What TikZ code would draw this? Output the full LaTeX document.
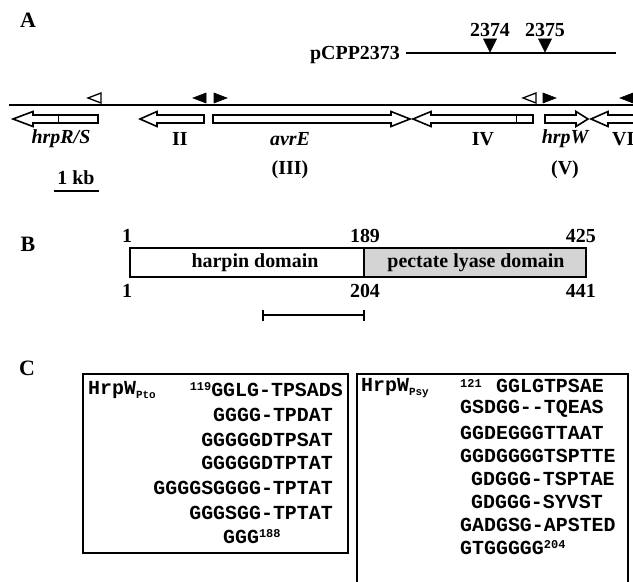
\documentclass[tikz,border=0pt]{standalone}
\usepackage{fontspec}
\setmainfont{Liberation Serif}
\setmonofont{Liberation Mono}
\usepackage{tikz}
\usetikzlibrary{arrows.meta}

% gene arrow: y, tail, head base, tip
\newcommand{\genearrow}[4]{%
  \draw[gene] (#2,#1-4) -- (#3,#1-4) -- (#3,#1-7.5) -- (#4,#1)
    -- (#3,#1+7.5) -- (#3,#1+4) -- (#2,#1+4) -- cycle;}
% small marker triangles: tip x, y, style
\newcommand{\triL}[3]{\draw[#3] (#1,#2) -- (#1+13,#2-5) -- (#1+13,#2+5) -- cycle;}
\newcommand{\triR}[3]{\draw[#3] (#1,#2) -- (#1-13,#2-5) -- (#1-13,#2+5) -- cycle;}
% superscript / subscript pieces
\newcommand{\supnum}[1]{{\fontsize{12}{12}\selectfont\raisebox{6bp}{#1}}}
\newcommand{\subtag}[1]{{\fontsize{11}{11}\selectfont\raisebox{-4bp}{#1}}}

\begin{document}
\begin{tikzpicture}[x=1bp, y=-1bp,
    lbl/.style={font=\fontsize{20}{22}\selectfont\bfseries, inner sep=0pt},
    genelbl/.style={font=\fontsize{20}{22}\selectfont\bfseries\itshape, inner sep=0pt},
    panel/.style={font=\fontsize{22}{22}\selectfont\bfseries, inner sep=0pt},
    seq/.style={font=\fontsize{20}{22}\selectfont\ttfamily\bfseries, inner sep=0pt},
    gene/.style={draw, line width=1.6bp, fill=white},
    opentri/.style={draw, line width=1.3bp, fill=white},
    filltri/.style={draw, line width=0.6bp, fill=black},
    box/.style={draw, line width=2.4bp}]

    \useasboundingbox (0,0) rectangle (633,582);

    % ---------- Panel A ----------
    \node[panel] (pA) at (28,20) {A};

    % Cosmid pCPP2373 with insertion sites
    \node[lbl, anchor=east] (pcpp) at (400,55) {pCPP2373};
    \coordinate (pstart) at (406,53);
    \coordinate (pend) at (616,53);
    \draw[line width=2.2bp] (pstart) -- (pend);
    \node[lbl] (s2374) at (490,30) {2374};
    \node[lbl] (s2375) at (545,30) {2375};
    \draw[filltri] (483.5,39) -- (496.5,39) -- (490,52) -- cycle;
    \draw[filltri] (538.5,39) -- (551.5,39) -- (545,52) -- cycle;

    % Main chromosome line
    \coordinate (mstart) at (9,105);
    \coordinate (mend) at (640,105);
    \draw[line width=2.6bp] (mstart) -- (mend);

    % Promoter markers above the line
    \triL{88}{98}{opentri}
    \triL{193}{98}{filltri}
    \triR{227}{98}{filltri}
    \triL{523}{98}{opentri}
    \triR{556}{98}{filltri}
    \triL{620}{98}{filltri}

    % Gene arrows
    \genearrow{119}{98}{33}{13}
    \draw[line width=1bp] (58,115) -- (58,123);
    \genearrow{119}{204}{157}{140}
    \genearrow{119}{213}{391}{410}
    \genearrow{119}{533}{431}{413}
    \draw[line width=1bp] (516,115) -- (516,123);
    \genearrow{119}{545}{576}{588}
    \genearrow{119}{650}{608}{591}

    % Gene labels
    \node[genelbl] (hrprs) at (61,139) {hrpR/S};
    \node[lbl] (gII) at (180,139) {II};
    \node[genelbl] (avre) at (290,139) {avrE};
    \node[lbl] (gIII) at (290,170) {(III)};
    \node[lbl] (gIV) at (483,139) {IV};
    \node[genelbl] (hrpw) at (565,139) {hrpW};
    \node[lbl] (gV) at (565,170) {(V)};
    \node[lbl, anchor=west] (gVI) at (612,139) {VI};

    % Scale bar
    \node[lbl] (kb) at (76,178) {1 kb};
    \coordinate (kbl) at (54,191);
    \coordinate (kbr) at (99,191);
    \draw[line width=2.2bp] (kbl) -- (kbr);

    % ---------- Panel B ----------
    \node[panel] (pB) at (28,244) {B};

    % Protein domains
    \draw[box, fill=black!17] (364,248) rectangle (586,277);
    \draw[box] (130,248) rectangle (364,277);
    \node[lbl] (harpin) at (255,263) {harpin domain};
    \node[lbl] (pectate) at (476,263) {pectate lyase domain};

    % Residue numbers
    \node[lbl] (t1) at (127,236) {1};
    \node[lbl] (t189) at (365,236) {189};
    \node[lbl, anchor=east] (t425) at (596,236) {425};
    \node[lbl] (b1) at (127,291) {1};
    \node[lbl] (b204) at (365,291) {204};
    \node[lbl, anchor=east] (b441) at (596,291) {441};

    % Repeat region bar
    \coordinate (rl) at (262,315);
    \coordinate (rr) at (365,315);
    \draw[line width=1.8bp, {Bar[width=11bp]}-{Bar[width=11bp]}] (rl) -- (rr);

    % ---------- Panel C ----------
    \node[panel] (pC) at (27,368) {C};

    % HrpW Pto repeats
    \draw[box] (83,374) rectangle (348,553);
    \node[seq, anchor=west] (pto) at (88,390) {HrpW\subtag{Pto}};
    \node[seq, anchor=east] (pto1) at (343,390) {\supnum{119}GGLG-TPSADS};
    \node[seq, anchor=east] (pto2) at (333,415) {GGGG-TPDAT};
    \node[seq, anchor=east] (pto3) at (333,440) {GGGGGDTPSAT};
    \node[seq, anchor=east] (pto4) at (333,463) {GGGGGDTPTAT};
    \node[seq, anchor=east] (pto5) at (333,488) {GGGGSGGGG-TPTAT};
    \node[seq, anchor=east] (pto6) at (333,513) {GGGSGG-TPTAT};
    \node[seq, anchor=west] (pto7) at (223,537) {GGG\supnum{188}};

    % HrpW Psy repeats
    \draw[box] (357,374) rectangle (628,600);
    \node[seq, anchor=west] (psy) at (361,388) {HrpW\subtag{Psy}};
    \node[seq, anchor=west] (psyn) at (460,386) {\supnum{121}};
    \node[seq, anchor=west] (psy1) at (496,386) {GGLGTPSAE};
    \node[seq, anchor=west] (psy2) at (460,409) {GSDGG--TQEAS};
    \node[seq, anchor=west] (psy3) at (460,433) {GGDEGGGTTAAT};
    \node[seq, anchor=west] (psy4) at (460,456) {GGDGGGGTSPTTE};
    \node[seq, anchor=west] (psy5) at (471,479) {GDGGG-TSPTAE};
    \node[seq, anchor=west] (psy6) at (471,502) {GDGGG-SYVST};
    \node[seq, anchor=west] (psy7) at (460,525) {GADGSG-APSTED};
    \node[seq, anchor=west] (psy8) at (460,548) {GTGGGGG\supnum{204}};

\end{tikzpicture}
\end{document}
